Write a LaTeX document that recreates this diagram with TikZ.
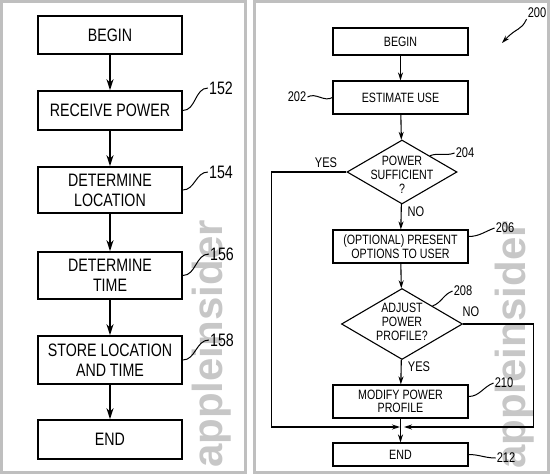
\documentclass[tikz,border=0pt]{standalone}
\usepackage{fontspec}
\setmainfont[FakeStretch=0.79]{Liberation Sans}
\newfontfamily\wmfont{Liberation Sans}
\usetikzlibrary{arrows.meta,shapes.geometric}

\begin{document}
\begin{tikzpicture}[x=1pt,y=-1pt,
        frame/.style={draw=black!25,line width=3pt},
        wmark/.style={text=black!22,rotate=90,inner sep=0pt,font=\wmfont\bfseries\fontsize{42}{42}\selectfont},
        lbox/.style={draw,line width=1.6pt,minimum width=144pt,inner sep=1pt,align=center,font=\fontsize{18}{20}\selectfont},
        rbox/.style={draw,line width=1.1pt,minimum width=135pt,inner sep=1pt,align=center,font=\fontsize{13.5}{13.5}\selectfont},
        dia/.style={draw,diamond,line width=1.1pt,inner sep=0pt},
        diatext/.style={align=center,inner sep=0pt,font=\fontsize{13.5}{14}\selectfont},
        lnum/.style={inner sep=1pt,font=\fontsize{18}{18}\selectfont},
        rnum/.style={inner sep=1pt,font=\fontsize{14}{14}\selectfont},
        lflow/.style={->,>={Stealth[length=11pt,width=7pt]},line width=1.6pt},
        rflow/.style={->,>={Stealth[length=8pt,width=5pt]},line width=1.1pt},
        lead/.style={line width=1pt}]
    \useasboundingbox (0,0) rectangle (550,474);
    \draw[frame] (1.5,1.5) rectangle (245.5,472.5);
    \draw[frame] (254.5,1.5) rectangle (548.5,472.5);
    \node[wmark] (wm1) at (212,344) {appleinsider};
    \node[wmark] (wm2) at (515,345) {appleinsider};

    \begin{scope}
        \node[lbox,minimum height=38pt] (begin) at (110,35) {BEGIN};
        \node[lbox,minimum height=39pt] (recv) at (110,110.5) {RECEIVE POWER};
        \node[lbox,minimum height=46pt] (loc) at (110,190) {DETERMINE\\LOCATION};
        \node[lbox,minimum height=47pt] (time) at (110,275.5) {DETERMINE\\TIME};
        \node[lbox,minimum height=48pt] (store) at (110,360) {STORE LOCATION\\AND TIME};
        \node[lbox,minimum height=39pt] (fin) at (110,439.5) {END};
        \draw[lflow] (begin) -- (recv);
        \draw[lflow] (recv) -- (loc);
        \draw[lflow] (loc) -- (time);
        \draw[lflow] (time) -- (store);
        \draw[lflow] (store) -- (fin);
        \node[lnum] (n152) at (221,88) {152};
        \node[lnum] (n154) at (221,172) {154};
        \node[lnum] (n156) at (222,254) {156};
        \node[lnum] (n158) at (222,340) {158};
        \draw[lead] (recv.east) to[out=0,in=180] (n152.west);
        \draw[lead] (loc.east) to[out=0,in=180] (n154.west);
        \draw[lead] (time.east) to[out=0,in=180] (n156.west);
        \draw[lead] (store.east) to[out=0,in=180] (n158.west);
    \end{scope}

    \begin{scope}
        \node[rbox,minimum height=27pt] (rbegin) at (400.5,41.5) {BEGIN};
        \node[rbox,minimum height=33pt] (est) at (400.5,97.5) {ESTIMATE USE};
        \node[dia,minimum width=110pt,minimum height=64pt] (suff) at (402,172) {};
        \node[diatext] (sufft) at (402,175) {POWER\\SUFFICIENT\\?};
        \node[rbox,minimum height=33pt] (opt) at (400.5,246.5) {(OPTIONAL) PRESENT\\OPTIONS TO USER};
        \node[dia,minimum width=121pt,minimum height=71pt] (adj) at (402,324) {};
        \node[diatext] (adjt) at (402,322) {ADJUST\\POWER\\PROFILE?};
        \node[rbox,minimum height=33pt] (mod) at (400.5,401.5) {MODIFY POWER\\PROFILE};
        \node[rbox,minimum height=23pt] (rend) at (400.5,454.5) {END};
        \coordinate (jn) at (402,427);
        \coordinate (p200) at (502,43);

        \draw[rflow] (rbegin) -- (est);
        \draw[rflow] (est) -- (suff);
        \draw[rflow] (suff) -- (opt);
        \draw[rflow] (opt) -- (adj);
        \draw[rflow] (adj) -- (mod);
        \draw[rflow] (mod.south) -- (rend.north);
        \draw[rflow,shorten >=2pt] (suff.west) -- ++(-75,0) |- (jn);
        \draw[rflow,shorten >=2pt] (adj.east) -- ++(70,0) |- (jn);

        \node[rnum] (yes1) at (326,163) {YES};
        \node[rnum] (no1) at (416,212) {NO};
        \node[rnum] (no2) at (471,312) {NO};
        \node[rnum] (yes2) at (419,367) {YES};

        \node[rnum] (n200) at (537,13) {200};
        \node[rnum] (n202) at (297,97) {202};
        \node[rnum] (n204) at (465,153) {204};
        \node[rnum] (n206) at (505,228) {206};
        \node[rnum] (n208) at (463,291) {208};
        \node[rnum] (n210) at (504,383) {210};
        \node[rnum] (n212) at (506,458) {212};
        \draw[lead] (n202.east) to[out=30,in=210] (est.west);
        \draw[lead] (suff.north east) to[out=20,in=200] (n204.west);
        \draw[lead] ([yshift=10pt]opt.east) to[out=0,in=200] (n206.west);
        \draw[lead] (adj.north east) to[out=20,in=200] (n208.west);
        \draw[lead] ([yshift=5pt]mod.east) to[out=0,in=200] (n210.west);
        \draw[lead] (rend.east) to[out=0,in=180] (n212.west);
        \draw[lead,->,>={Stealth[length=8pt,width=5pt]}] (n200.south west) .. controls (521,31) and (517,27) .. (p200);
    \end{scope}
\end{tikzpicture}
\end{document}
